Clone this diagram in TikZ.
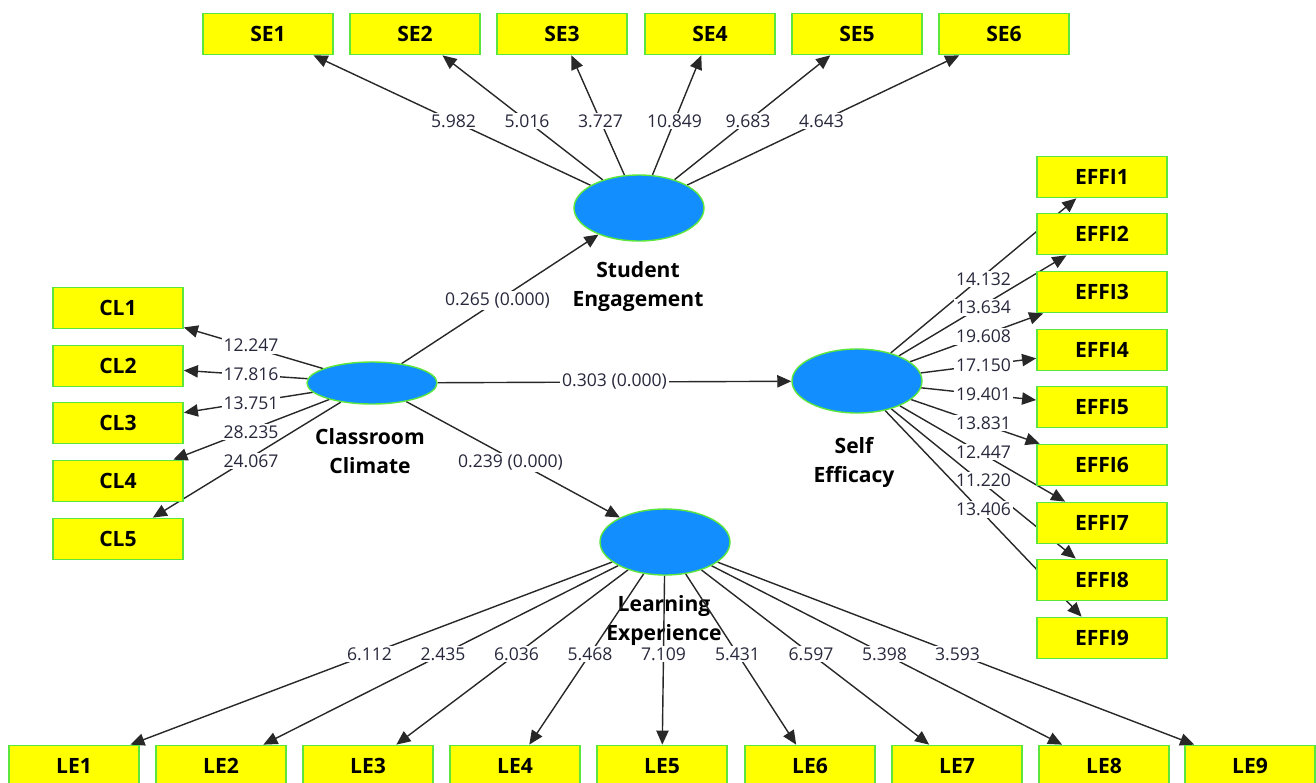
\documentclass[tikz,border=0pt]{standalone}
\usepackage{fontspec}
\setmainfont{Open Sans}
\usetikzlibrary{arrows.meta,calc,shapes.geometric}
\pgfdeclarelayer{bg}
\pgfsetlayers{bg,main}
\definecolor{boxyellow}{RGB}{255,255,0}
\definecolor{boxgreen}{RGB}{90,230,60}
\definecolor{latblue}{RGB}{18,142,255}
\definecolor{linegray}{RGB}{40,40,40}
\definecolor{numcol}{RGB}{40,40,60}
\tikzset{
  ind/.style={draw=boxgreen, fill=boxyellow, line width=1pt, minimum width=2.6cm, minimum height=0.82cm, inner sep=0pt, font=\fontsize{12}{14}\selectfont\bfseries},
  lat/.style={ellipse, draw=boxgreen, fill=latblue, line width=0.8pt, minimum width=2.6cm, inner sep=0pt},
  latlbl/.style={align=center, font=\fontsize{12}{16.5}\selectfont\bfseries},
  conn/.style={draw=linegray, line width=0.8pt, -{Triangle[length=8pt,width=7pt]}},
  num/.style={fill=white, inner sep=1pt, text=numcol, font=\fontsize{10}{12}\selectfont},
}
\begin{document}
\begin{tikzpicture}[x=0.02cm,y=-0.02cm]
\clip (0,0) rectangle (1316,782);
% latent variables
\node[lat, minimum height=1.32cm] (SEng) at (639,208) {};
\node[lat, minimum height=0.84cm] (CC) at (372,383) {};
\node[lat, minimum height=1.28cm] (SEff) at (857,381) {};
\node[lat, minimum height=1.32cm] (LEx) at (665,542) {};
\node[latlbl] (SEngL) at (638,287) {Student\\Engagement};
\node[latlbl] (CCL) at (370,451) {Classroom\\Climate};
\node[latlbl] (SEffL) at (854,462) {Self\\Efficacy};
% indicators
\foreach \i/\x in {1/268,2/415,3/562,4/710,5/857,6/1004}
  \node[ind] (SE\i) at (\x,34) {SE\i};
\foreach \i/\y in {1/308,2/366,3/423,4/481,5/539}
  \node[ind] (CL\i) at (118,\y) {CL\i};
\foreach \i/\y in {1/177,2/234,3/292,4/350,5/407,6/465,7/523,8/580,9/638}
  \node[ind] (EF\i) at (1102,\y) {EFFI\i};
\foreach \i/\x in {1/74,2/221,3/368,4/515,5/662,6/810,7/957,8/1104,9/1250}
  \node[ind] (LE\i) at (\x,766) {LE\i};
\begin{pgfonlayer}{bg}
  \node[latlbl] (LExL) at (664,621) {Learning\\Experience};
  \foreach \i/\v in {1/5.982,2/5.016,3/3.727,4/10.849,5/9.683,6/4.643}{
    \draw[conn] (SEng) -- (SE\i);
    \node[num] at ($(SEng.center)!0.5!(SE\i.center)$) {\v};
  }
  \foreach \i/\v in {1/12.247,2/17.816,3/13.751,4/28.235,5/24.067}{
    \draw[conn] (CC) -- (CL\i);
    \node[num] at ($(CC.center)!0.5!(CL\i.center)+(6,0)$) {\v};
  }
  \foreach \i/\v in {1/14.132,2/13.634,3/19.608,4/17.150,5/19.401,6/13.831,7/12.447,8/11.220,9/13.406}{
    \draw[conn] (SEff) -- (EF\i);
    \node[num] at ($(SEff.center)!0.5!(EF\i.center)+(4,0)$) {\v};
  }
  \foreach \i/\v in {1/6.112,2/2.435,3/6.036,4/5.468,5/7.109,6/5.431,7/6.597,8/5.398,9/3.593}{
    \draw[conn] (LEx) -- (LE\i);
    \node[num] at ($(LEx.center)!0.5!(LE\i.center)$) {\v};
  }
  \draw[conn] (CC) -- (SEng);
  \node[num] at ($(CC.center)!0.5!(SEng.center)+(-8,5)$) {0.265 (0.000)};
  \draw[conn] (CC) -- (SEff);
  \node[num] at ($(CC.center)!0.5!(SEff.center)$) {0.303 (0.000)};
  \draw[conn] (CC) -- (LEx);
  \node[num] at ($(CC.center)!0.5!(LEx.center)+(-8,0)$) {0.239 (0.000)};
\end{pgfonlayer}
\end{tikzpicture}
\end{document}
